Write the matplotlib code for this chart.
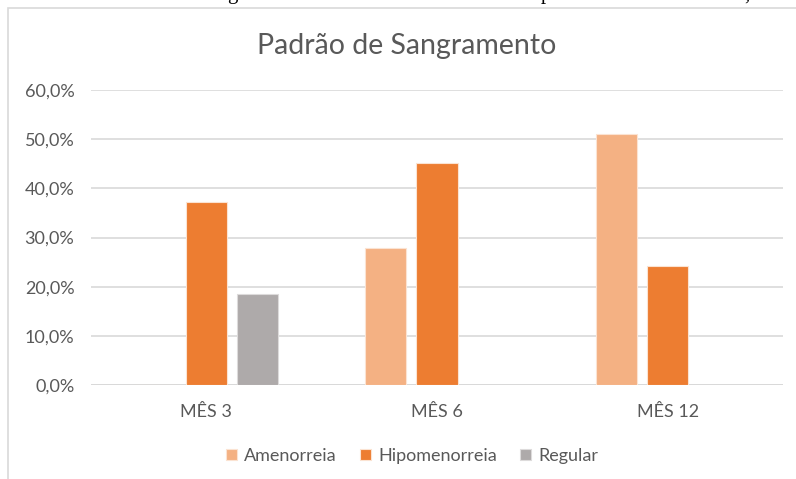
import matplotlib.pyplot as plt
import matplotlib.patches as mpatches
import numpy as np

plt.rcParams['font.family'] = ['Lato', 'DejaVu Sans']

meses = ['MÊS 3', 'MÊS 6', 'MÊS 12']
amenorreia = [0.0, 0.278, 0.511]
hipomenorreia = [0.372, 0.452, 0.243]
regular = [0.185, 0.0, 0.0]
yticks = [0.0, 0.1, 0.2, 0.3, 0.4, 0.5, 0.6]

cores = {'Amenorreia': '#F4B183', 'Hipomenorreia': '#ED7D31', 'Regular': '#AEAAAA'}

W, H = 796, 479
fig = plt.figure(figsize=(W / 100, H / 100), dpi=100)

# chart frame (cut off at right and bottom like the screenshot)
fig.patches.append(mpatches.Rectangle((8 / W, -0.1), 1.2, 1 - 8 / H + 0.1,
                                      transform=fig.transFigure, fill=False,
                                      edgecolor='#D9D9D9', linewidth=1.2))

# fragments of the document line above the chart (only descenders show)
for x, ch in [(227, 'g'), (541, 'p'), (744, ',')]:
    fig.text(x / W, 1 + 0.5 / H, ch, family='Liberation Serif', fontsize=15,
             va='baseline', ha='left', color='black')

ax = fig.add_axes([91 / W, 1 - 385 / H, 692 / W, 295 / H])
x = np.arange(len(meses))
larg = 0.178
desl = 0.222
series = [('Amenorreia', amenorreia), ('Hipomenorreia', hipomenorreia), ('Regular', regular)]
for i, (nome, vals) in enumerate(series):
    ax.bar(x + (i - 1) * desl, vals, larg, color=cores[nome], label=nome,
           edgecolor='#FBE3D2' if nome != 'Regular' else '#DDDBDB', linewidth=0.8, zorder=3)

ax.set_xlim(-0.5, len(meses) - 0.5)
ax.set_ylim(0, 0.6)
ax.set_yticks(yticks)
ax.set_yticklabels([f'{v * 100:.1f}%'.replace('.', ',') for v in yticks])
ax.set_xticks(x)
ax.set_xticklabels(meses)
ax.yaxis.grid(True, color='#D9D9D9', linewidth=1.2, zorder=0)
for s in ax.spines.values():
    s.set_visible(False)
ax.axhline(0, color='#D9D9D9', linewidth=1.4, zorder=2)
ax.tick_params(length=0, labelsize=13, colors='#595959')
ax.tick_params(axis='y', pad=12)
ax.tick_params(axis='x', pad=14)

fig.text(407 / W, 1 - 46 / H, 'Padrão de Sangramento', ha='center', va='center',
         fontsize=20.5, color='#595959')

fig.legend(loc='center', bbox_to_anchor=(412 / W, 1 - 456 / H), ncol=3, frameon=False,
           fontsize=13, labelcolor='#595959', handlelength=0.6, handleheight=0.6,
           handletextpad=0.4, columnspacing=1.3)

fig.savefig('out.png', dpi=100)
